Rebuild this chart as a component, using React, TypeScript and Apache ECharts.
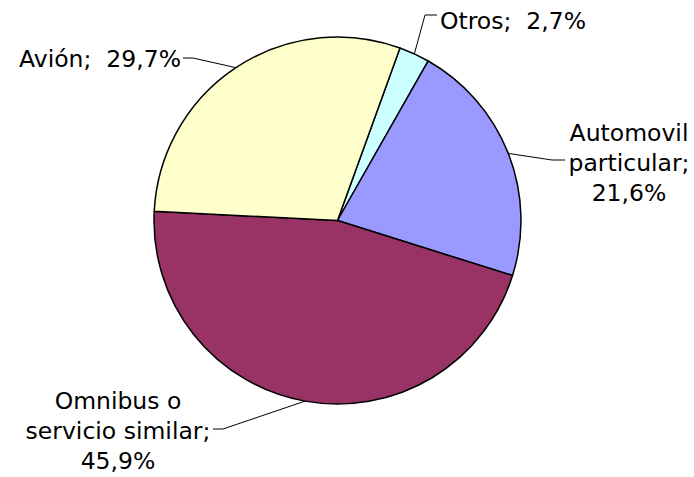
import React, { useEffect, useRef } from 'react';
import * as echarts from 'echarts';

const categories = ['Otros', 'Automovil\nparticular', 'Omnibus o\nservicio similar', 'Avión'];
const shares = [2.7, 21.6, 45.9, 29.7];
const colors = ['#CCFFFF', '#9999FF', '#993366', '#FFFFCC'];

// label placement (layout only)
const labelPlacement: any[] = [
  { x: 440, y: 21, align: 'left', elbow: [[425, 15], [437, 15]] },
  { x: 629, y: 163, align: 'center', elbow: [[552, 160], [565, 160]] },
  { x: 118, y: 431, align: 'center', elbow: [[223, 429], [213, 429]] },
  { x: 181, y: 59, align: 'right', elbow: [[193, 58], [183, 58]] },
];

const fmt = (v: number) => v.toFixed(1).replace('.', ',') + '%';

export default function App() {
  const ref = useRef<HTMLDivElement>(null);
  useEffect(() => {
    if (!ref.current) return;
    const chart = echarts.init(ref.current, undefined, { renderer: 'svg' });
    chart.setOption({
      animation: false,
      backgroundColor: '#ffffff',
      series: [
        {
          type: 'pie',
          center: [337.5, 220.5],
          radius: 183.5,
          startAngle: 70.1,
          clockwise: true,
          avoidLabelOverlap: false,
          data: categories.map((name, i) => ({
            name,
            value: shares[i],
            itemStyle: { color: colors[i] },
          })),
          itemStyle: { borderColor: '#000', borderWidth: 1.5 },
          label: {
            show: true,
            position: 'outside',
            fontFamily: 'DejaVu Sans',
            fontSize: 23.5,
            lineHeight: 30,
            color: '#000',
            formatter: (p: any) =>
              p.name + (p.name.indexOf('\n') >= 0 ? ';\n' : ';  ') + fmt(p.value),
          },
          labelLine: {
            show: true,
            length: 10,
            length2: 10,
            lineStyle: { color: '#000', width: 1 },
          },
          labelLayout: (params: any) => {
            const pl = labelPlacement[params.dataIndex];
            const start = params.labelLinePoints ? params.labelLinePoints[0] : pl.elbow[0];
            return {
              x: pl.x,
              y: pl.y,
              align: pl.align,
              verticalAlign: 'middle',
              labelLinePoints: [start, pl.elbow[0], pl.elbow[1]],
            };
          },
          emphasis: { disabled: true },
        },
      ],
    });
    return () => chart.dispose();
  }, []);
  return (
    <div
      ref={ref}
      style={{ position: 'absolute', left: 0, top: 0, width: 694, height: 477 }}
    />
  );
}
